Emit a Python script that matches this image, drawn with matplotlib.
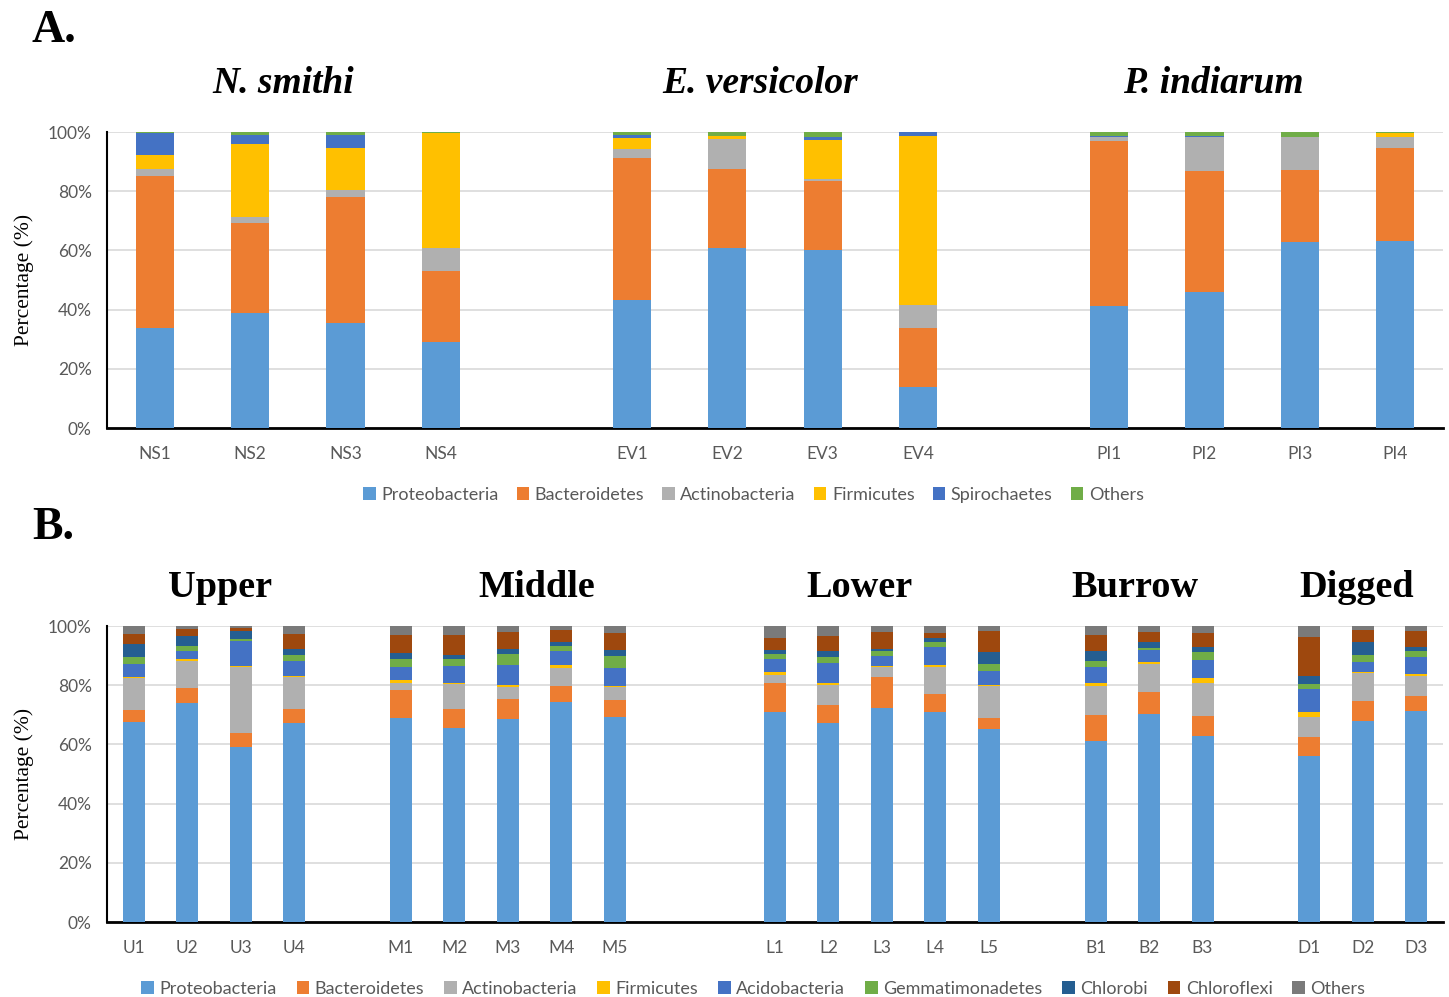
import numpy as np
import matplotlib.pyplot as plt

# ---- Panel A: relative abundance in the three host species ----
samples_a = ['NS1', 'NS2', 'NS3', 'NS4', '',
             'EV1', 'EV2', 'EV3', 'EV4', '',
             'PI1', 'PI2', 'PI3', 'PI4']
phyla_a = ['Proteobacteria', 'Bacteroidetes', 'Actinobacteria',
           'Firmicutes', 'Spirochaetes', 'Others']
proteo_a = [33.9, 38.9, 35.6, 29.0, 43.4, 60.9, 60.0, 13.8, 41.1, 45.8, 62.9, 63.3]
bactero_a = [51.1, 30.5, 42.6, 24.0, 47.8, 26.7, 23.3, 19.9, 55.7, 40.9, 24.3, 31.3]
actino_a = [2.5, 2.0, 2.3, 7.9, 3.0, 9.9, 0.9, 7.9, 1.4, 11.6, 11.1, 3.6]
firmi_a = [4.8, 24.5, 14.0, 38.8, 3.9, 1.0, 13.0, 57.2, 0.0, 0.0, 0.1, 1.3]
spiro_a = [7.4, 3.0, 4.6, 0.1, 1.0, 0.3, 1.0, 1.1, 0.5, 0.5, 0.0, 0.0]
others_a = [0.3, 1.1, 0.9, 0.3, 0.9, 1.2, 1.8, 0.1, 1.3, 1.2, 1.6, 0.5]
titles_a = ['N. smithi', 'E. versicolor', 'P. indiarum']

# ---- Panel B: relative abundance by burrow section ----
samples_b = ['U1', 'U2', 'U3', 'U4', '',
             'M1', 'M2', 'M3', 'M4', 'M5', '', '',
             'L1', 'L2', 'L3', 'L4', 'L5', '',
             'B1', 'B2', 'B3', '',
             'D1', 'D2', 'D3']
phyla_b = ['Proteobacteria', 'Bacteroidetes', 'Actinobacteria', 'Firmicutes',
           'Acidobacteria', 'Gemmatimonadetes', 'Chlorobi', 'Chloroflexi', 'Others']
proteo_b = [67.5, 74.1, 59.2, 67.1, 69.0, 65.7, 68.5, 74.4, 69.2,
            70.8, 67.1, 72.4, 71.0, 65.3, 61.1, 70.3, 62.9, 56.1, 68.0, 71.3]
bactero_b = [4.0, 5.0, 4.6, 4.8, 9.4, 6.3, 6.9, 5.4, 5.8,
             10.0, 6.2, 10.5, 5.9, 3.5, 8.8, 7.5, 6.8, 6.5, 6.7, 4.9]
actino_b = [10.8, 9.1, 22.2, 10.8, 2.5, 8.3, 4.1, 6.1, 4.3,
            2.6, 6.9, 3.2, 9.3, 11.0, 9.7, 9.2, 11.2, 6.8, 9.4, 6.9]
firmi_b = [0.5, 0.6, 0.5, 0.3, 0.7, 0.4, 0.5, 1.0, 0.4,
           0.9, 0.6, 0.5, 0.7, 0.2, 1.3, 0.8, 1.4, 1.4, 0.3, 0.8]
acido_b = [4.5, 2.9, 8.4, 5.2, 4.6, 5.8, 6.7, 4.8, 6.2,
           4.5, 6.6, 3.4, 6.0, 4.9, 5.2, 4.1, 6.1, 7.8, 3.6, 5.8]
gemma_b = [2.3, 1.6, 0.7, 2.0, 2.5, 2.2, 3.7, 1.5, 4.0,
           1.7, 2.3, 1.5, 1.6, 2.4, 2.1, 0.8, 2.8, 1.9, 2.3, 2.0]
chlorobi_b = [4.4, 3.4, 2.7, 2.2, 2.3, 1.5, 1.9, 1.3, 2.0,
              1.4, 2.0, 0.9, 1.3, 3.8, 3.3, 1.8, 1.6, 2.5, 4.4, 1.1]
chlorofl_b = [3.2, 2.4, 1.1, 5.0, 6.0, 6.8, 5.7, 4.1, 5.8,
              4.2, 4.8, 5.6, 1.9, 7.2, 5.6, 3.4, 4.7, 13.4, 3.9, 5.5]
others_b = [2.8, 0.9, 0.6, 2.6, 3.0, 3.0, 2.0, 1.4, 2.3,
            3.9, 3.5, 2.0, 2.3, 1.7, 2.9, 2.1, 2.5, 3.6, 1.4, 1.7]
titles_b = ['Upper', 'Middle', 'Lower', 'Burrow', 'Digged']

colors_a = ['#5B9BD5', '#ED7D31', '#B0B0B0', '#FFC000', '#4472C4', '#70AD47']
colors_b = ['#5B9BD5', '#ED7D31', '#B0B0B0', '#FFC000', '#4472C4',
            '#70AD47', '#255E91', '#9E480E', '#7A7A7A']

plt.rcParams['font.family'] = ['Lato', 'DejaVu Sans']
TICK_GRAY = '#595959'
SERIF = 'Liberation Serif'


def stacked(ax, labels, series, colors, names, width):
    x = np.array([i for i, s in enumerate(labels) if s])
    bottom = np.zeros(len(x))
    for vals, c, name in zip(series, colors, names):
        vals = np.array(vals)
        ax.bar(x, vals, width, bottom=bottom, color=c, label=name, zorder=3)
        bottom += vals
    ax.set_xlim(-0.5, len(labels) - 0.5)
    ax.set_ylim(0, 100)
    ax.set_xticks(x)
    ax.set_xticklabels([s for s in labels if s])
    ax.set_yticks(np.arange(0, 101, 20))
    ax.set_yticklabels([f'{v}%' for v in range(0, 101, 20)])
    ax.yaxis.grid(True, color='#D9D9D9', lw=1.2, zorder=0)
    ax.tick_params(length=0, labelsize=12.5, colors=TICK_GRAY, pad=11)
    ax.tick_params(axis='x', pad=13)
    for side in ['top', 'right']:
        ax.spines[side].set_visible(False)
    ax.spines['left'].set_color('black')
    ax.spines['left'].set_linewidth(1.5)
    ax.spines['bottom'].set_color('black')
    ax.spines['bottom'].set_linewidth(2)
    ax.set_ylabel('Percentage (%)', family=SERIF, fontsize=15.5, color='black', labelpad=10)


fig = plt.figure(figsize=(14.49, 9.97), dpi=100)

ax1 = fig.add_axes([0.0738, 0.5707, 0.9221, 0.2969])
stacked(ax1, samples_a,
        [proteo_a, bactero_a, actino_a, firmi_a, spiro_a, others_a],
        colors_a, phyla_a, 0.4)
ax1.legend(loc='center', bbox_to_anchor=(0.52, 0.5035), bbox_transform=fig.transFigure,
           ncol=6, frameon=False, fontsize=13, handlelength=0.7, handleheight=0.7,
           handletextpad=0.3, columnspacing=1.0, labelcolor=TICK_GRAY)

ax2 = fig.add_axes([0.0738, 0.0752, 0.9221, 0.2969])
stacked(ax2, samples_b,
        [proteo_b, bactero_b, actino_b, firmi_b, acido_b, gemma_b,
         chlorobi_b, chlorofl_b, others_b],
        colors_b, phyla_b, 0.41)
ax2.legend(loc='center', bbox_to_anchor=(0.52, 0.0085), bbox_transform=fig.transFigure,
           ncol=9, frameon=False, fontsize=13, handlelength=0.7, handleheight=0.7,
           handletextpad=0.3, columnspacing=1.1, labelcolor=TICK_GRAY)

# panel letters and group headings
fig.text(0.022, 0.969, 'A.', family=SERIF, fontsize=33, weight='bold', va='center')
fig.text(0.022, 0.4705, 'B.', family=SERIF, fontsize=33, weight='bold', va='center')

for t, xc in zip(titles_a, [0.1953, 0.5245, 0.8371]):
    fig.text(xc, 0.9165, t, family=SERIF, fontsize=27, weight='bold',
             style='italic', ha='center', va='center')
for t, xc in zip(titles_b, [0.1518, 0.3706, 0.5935, 0.7833, 0.9365]):
    fig.text(xc, 0.4105, t, family=SERIF, fontsize=27.5, weight='bold',
             ha='center', va='center')

fig.savefig('out.png', dpi=100)
